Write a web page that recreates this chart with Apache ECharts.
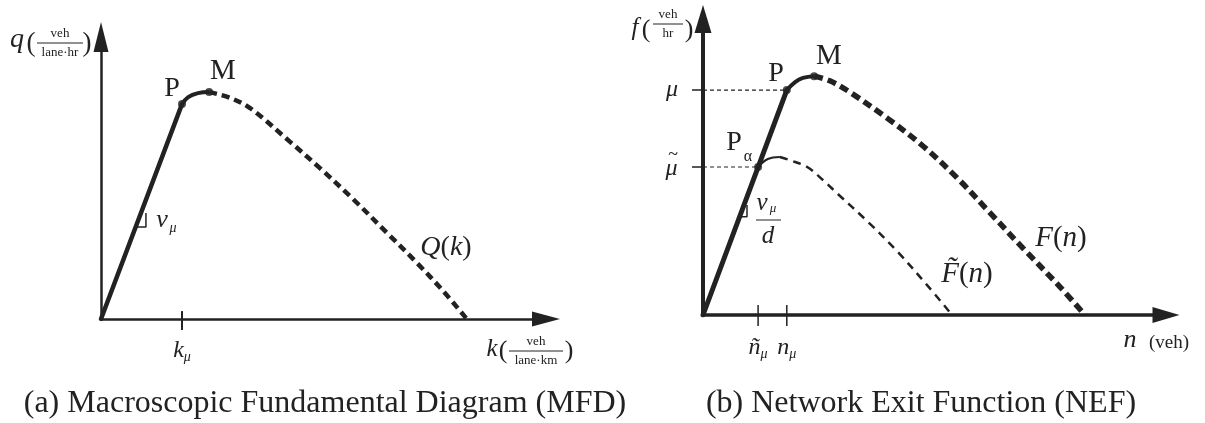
<!DOCTYPE html>
<html>
<head>
<meta charset="utf-8">
<script src="https://cdn.jsdelivr.net/npm/echarts@6/dist/echarts.min.js"></script>
<style>
  html, body { margin: 0; padding: 0; background: #fff; }
  #chart { width: 1205px; height: 423px; }
</style>
</head>
<body>
<div id="chart"></div>
<script>
// (a) MFD, values in axis units (0..100 on each axis)
const mfdLinear = [[0, 0], [18.2, 76.2]];
const mfdPeak = [[18.2, 76.2], [19.6, 78.7], [21.8, 80.1], [24.3, 80.5]];
const mfdDecline = [[24.3, 80.5], [29.0, 78.4], [33.5, 74.8], [42.5, 62.8], [49.2, 53.5],
  [56.6, 42.6], [64.3, 30.5], [71.0, 19.9], [76.9, 9.9], [82.2, 0]];
const mfdPoints = [[18.2, 76.2], [24.3, 80.5]];
const mfdTicks = [18.2];
const mfdTickLabels = ['k_μ'];
const mfdSlope = [[7.8, 32.6], [10.1, 32.6], [10.1, 37.6]];

// (b) NEF
const nefLinear = [[0, 0], [18.1, 76.0]];
const nefPeak = [[18.1, 76.0], [19.9, 78.7], [21.6, 80.1], [24.0, 80.7]];
const nefDecline = [[24.0, 80.7], [27.4, 79.1], [31.7, 75.3], [39.7, 66.6], [47.5, 57.1],
  [54.9, 46.3], [62.0, 34.5], [69.1, 22.6], [77.1, 9.5], [82.5, 0]];
const nefReducedPeak = [[11.9, 50.0], [14.0, 52.7], [16.6, 53.4]];
const nefReducedDecline = [[16.6, 53.4], [18.6, 52.4], [22.5, 50.0], [25.9, 45.6], [28.9, 41.2],
  [35.4, 31.8], [41.9, 21.6], [48.4, 10.1], [53.8, 0]];
const nefPoints = [[11.9, 50.0], [18.1, 76.0], [24.0, 80.7]];
const nefXTicks = [11.9, 18.1];
const nefXTickLabels = ['ñ_μ', 'n_μ'];
const nefYTicks = [50.0, 76.0];
const nefYTickLabels = ['μ̃', 'μ'];
const nefSlope = [[7.9, 33.2], [9.5, 33.2], [9.5, 37.2]];

const SERIF = '"Liberation Serif", "Times New Roman", serif';
const INK = '#222';

const chart = echarts.init(document.getElementById('chart'), null, { renderer: 'canvas' });

// "k_μ" -> rich text with italic letter and subscript
function subLabel(s) {
  const [base, sub] = s.split('_');
  return '{i|' + base + '}{s|' + sub + '}';
}
// "μ̃" -> tilde drawn on its own line above the letter
function tildeLabel(s) {
  if (s.length > 1) return '{tl|~}\n{m|' + s[0] + '}';
  return '{i|' + s + '}';
}
const labelRich = {
  i: { fontFamily: SERIF, fontStyle: 'italic', fontSize: 24, color: INK },
  s: { fontFamily: SERIF, fontStyle: 'italic', fontSize: 14, color: INK, padding: [12, 0, 0, 0] },
  tl: { fontFamily: SERIF, fontSize: 18, color: INK, lineHeight: 4, align: 'center', padding: [0, 0, 0, 3] },
  m: { fontFamily: SERIF, fontStyle: 'italic', fontSize: 24, color: INK, lineHeight: 24, align: 'center' }
};

function tickSegments(xs, lo, hi) {
  return xs.map(x => [[x, lo], [x, hi], null]).flat();
}

function axisX(grid, ticks, labels, lw, arrow, margin) {
  return {
    gridIndex: grid, type: 'value', min: 0, max: 100,
    axisLine: { show: true, onZero: false, lineStyle: { color: INK, width: lw },
      symbol: ['none', 'triangle'], symbolSize: arrow },
    axisTick: { show: false },
    splitLine: { show: false },
    axisLabel: {
      show: true, customValues: ticks, margin: margin,
      formatter: v => subLabel(labels[ticks.indexOf(v)] || ''),
      rich: labelRich
    }
  };
}

const option = {
  animation: false,
  backgroundColor: '#fff',
  grid: [
    { left: 101, top: 37, width: 445, height: 282 },
    { left: 703, top: 19, width: 463, height: 296 }
  ],
  xAxis: [
    axisX(0, mfdTicks, mfdTickLabels, 2.5, [15, 28], 19),
    axisX(1, nefXTicks, nefXTickLabels, 3.5, [16, 27], 20)
  ],
  yAxis: [
    {
      gridIndex: 0, type: 'value', min: 0, max: 100,
      axisLine: { show: true, onZero: false, lineStyle: { color: INK, width: 2.5 },
        symbol: ['none', 'triangle'], symbolSize: [15, 30] },
      axisTick: { show: false }, axisLabel: { show: false }, splitLine: { show: false }
    },
    {
      gridIndex: 1, type: 'value', min: 0, max: 100,
      axisLine: { show: true, onZero: false, lineStyle: { color: INK, width: 4 },
        symbol: ['none', 'triangle'], symbolSize: [17, 28] },
      axisTick: { show: true, customValues: nefYTicks, length: 11, lineStyle: { color: INK, width: 1.5 } },
      axisLabel: {
        show: true, customValues: nefYTicks, margin: 25,
        formatter: v => tildeLabel(nefYTickLabels[nefYTicks.indexOf(v)]),
        rich: labelRich
      },
      splitLine: { show: false }
    }
  ],
  series: [
    // (a)
    { type: 'line', xAxisIndex: 0, yAxisIndex: 0, data: mfdLinear, symbol: 'none',
      lineStyle: { color: INK, width: 4.5, cap: 'round' } },
    { type: 'line', xAxisIndex: 0, yAxisIndex: 0, data: mfdPeak, symbol: 'none', smooth: 0.4,
      lineStyle: { color: INK, width: 4 } },
    { type: 'line', xAxisIndex: 0, yAxisIndex: 0, data: mfdDecline, symbol: 'none', smooth: 0.35,
      lineStyle: { color: INK, width: 4.5, type: [8, 5] } },
    { type: 'scatter', xAxisIndex: 0, yAxisIndex: 0, data: mfdPoints, symbolSize: 8,
      itemStyle: { color: INK } },
    { type: 'line', xAxisIndex: 0, yAxisIndex: 0, data: tickSegments(mfdTicks, -3.9, 2.8),
      symbol: 'none', clip: false, connectNulls: false, lineStyle: { color: INK, width: 2 } },
    { type: 'line', xAxisIndex: 0, yAxisIndex: 0, data: mfdSlope, symbol: 'none',
      lineStyle: { color: INK, width: 1.5 } },
    // (b)
    { type: 'line', xAxisIndex: 1, yAxisIndex: 1, data: nefLinear, symbol: 'none',
      lineStyle: { color: INK, width: 5, cap: 'round' } },
    { type: 'line', xAxisIndex: 1, yAxisIndex: 1, data: nefPeak, symbol: 'none', smooth: 0.4,
      lineStyle: { color: INK, width: 4 } },
    { type: 'line', xAxisIndex: 1, yAxisIndex: 1, data: nefDecline, symbol: 'none', smooth: 0.35,
      lineStyle: { color: INK, width: 5.5, type: [9, 5] } },
    { type: 'line', xAxisIndex: 1, yAxisIndex: 1, data: nefReducedPeak, symbol: 'none', smooth: 0.4,
      lineStyle: { color: INK, width: 2 } },
    { type: 'line', xAxisIndex: 1, yAxisIndex: 1, data: nefReducedDecline, symbol: 'none', smooth: 0.35,
      lineStyle: { color: INK, width: 2.5, type: [8, 6] } },
    { type: 'line', xAxisIndex: 1, yAxisIndex: 1,
      data: nefYTicks.map((y, i) => [[0, y], [nefPoints[i][0], y], null]).flat(),
      symbol: 'none', connectNulls: false, lineStyle: { color: INK, width: 1.2, type: [4, 3] } },
    { type: 'scatter', xAxisIndex: 1, yAxisIndex: 1, data: nefPoints, symbolSize: 8,
      itemStyle: { color: INK } },
    { type: 'line', xAxisIndex: 1, yAxisIndex: 1, data: tickSegments(nefXTicks, -3.7, 3.4),
      symbol: 'none', clip: false, connectNulls: false, lineStyle: { color: INK, width: 1.5 } },
    { type: 'line', xAxisIndex: 1, yAxisIndex: 1, data: nefSlope, symbol: 'none',
      lineStyle: { color: INK, width: 1.5 } }
  ],
  graphic: []
};

// text annotations
function t(x, y, s, size, italic, align) {
  return { type: 'text', x: x, y: y, silent: true,
    style: { text: s, fontFamily: SERIF, fontSize: size, fontStyle: italic ? 'italic' : 'normal',
      fill: INK, align: align || 'center', verticalAlign: 'middle' } };
}
function frac(cx, y, num, den, w, size, italic) {
  return [
    t(cx, y - size * 0.72, num, size, italic),
    { type: 'line', silent: true, shape: { x1: cx - w / 2, y1: y, x2: cx + w / 2, y2: y },
      style: { stroke: INK, lineWidth: 1 } },
    t(cx, y + size * 0.72, den, size, italic)
  ];
}
function rich(x, y, parts, size) {
  return { type: 'text', x: x, y: y, silent: true,
    style: { text: parts, fontFamily: SERIF, fontSize: size, fill: INK, align: 'center', verticalAlign: 'middle',
      rich: {
        i: { fontFamily: SERIF, fontStyle: 'italic', fontSize: size, fill: INK },
        r: { fontFamily: SERIF, fontSize: size, fill: INK }
      } } };
}

option.graphic = [
  // (a) axis names
  t(17, 40, 'q', 28, true),
  t(31, 44, '(', 27, false),
  ...frac(60, 43, 'veh', 'lane·hr', 46, 13, false),
  t(87, 44, ')', 27, false),
  t(492, 349, 'k', 25, true),
  t(503, 351, '(', 26, false),
  ...frac(536, 351, 'veh', 'lane·km', 54, 13, false),
  t(569, 351, ')', 26, false),
  // (a) point labels
  t(172, 89, 'P', 28, false),
  t(223, 71, 'M', 29, false),
  t(162, 220, 'ν', 26, true),
  t(173, 228, 'μ', 14, true),
  rich(446, 248, '{i|Q}{r|(}{i|k}{r|)}', 28),
  // (b) axis names
  t(635, 28, 'f', 25, true),
  t(646, 30, '(', 26, false),
  ...frac(668, 24, 'veh', 'hr', 30, 13, false),
  t(689, 30, ')', 26, false),
  t(1130, 340, 'n', 26, true),
  t(1169, 343, '(veh)', 19, false),
  // (b) point labels
  t(776, 74, 'P', 28, false),
  t(829, 56, 'M', 29, false),
  t(734, 143, 'P', 28, false),
  t(748, 157, 'α', 16, false),
  t(762, 203, 'ν', 25, true),
  t(773, 209, 'μ', 13, true),
  { type: 'line', silent: true, shape: { x1: 756, y1: 220, x2: 781, y2: 220 }, style: { stroke: INK, lineWidth: 1 } },
  t(768, 236, 'd', 25, true),
  rich(967, 274, '{i|F̃}{r|(}{i|n}{r|)}', 29),
  rich(1061, 238, '{i|F}{r|(}{i|n}{r|)}', 29),
  // captions
  t(325, 404, '(a) Macroscopic Fundamental Diagram (MFD)', 32, false),
  t(921, 404, '(b) Network Exit Function (NEF)', 32, false)
];

chart.setOption(option);
</script>
</body>
</html>
